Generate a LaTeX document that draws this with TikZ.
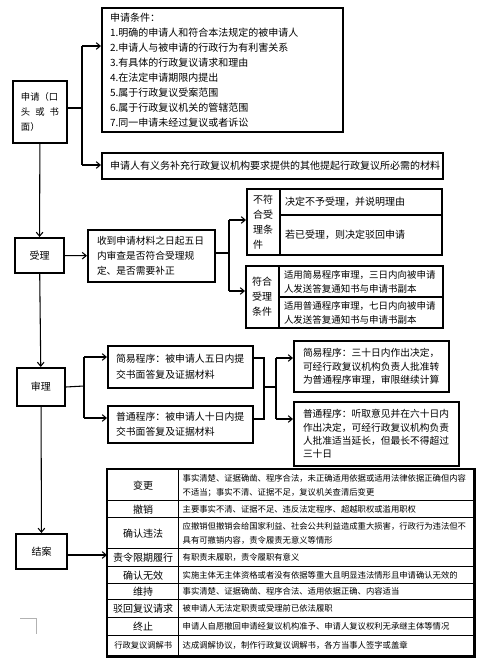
\documentclass[tikz,border=0pt]{standalone}
\usepackage{fontspec}
\newfontfamily\cjk{Noto Sans CJK SC}
\usetikzlibrary{arrows.meta,positioning,calc}

\begin{document}
\begin{tikzpicture}[x=0.75pt,y=-0.75pt,>={Straight Barb[length=3pt,width=5pt]},
 box/.style={draw,line width=1.5pt,anchor=north west,inner sep=0pt,font=\cjk\fontsize{7.5}{11.25}\selectfont},
 tbox/.style={box,align=left},
 cbox/.style={box,align=center},
 lcell/.style={draw,line width=1.1pt,anchor=north west,inner sep=0pt,align=center,minimum width=53.25pt,font=\cjk\fontsize{7.5}{10}\selectfont},
 cell/.style={draw,line width=1.1pt,anchor=north west,inner ysep=0pt,inner xsep=3pt,align=left,text width=215.25pt,font=\cjk\fontsize{6.25}{10.5}\selectfont},
 every path/.style={line width=0.8pt}]
\path[fill=white,use as bounding box] (0,0) rectangle (492,664);
% apply
\node[tbox,inner xsep=6pt,text width=28.5pt,minimum height=46.5pt,font=\cjk\fontsize{7}{11.25}\selectfont] (apply) at (12,80) {申请（口\\头\hfill 或\hfill 书\\面）};
\node[tbox,inner xsep=6pt,text width=168.75pt,minimum height=93pt] (cond) at (101,7) {申请条件：\\1.明确的申请人和符合本法规定的被申请人\\2.申请人与被申请的行政行为有利害关系\\3.有具体的行政复议请求和理由\\4.在法定申请期限内提出\\5.属于行政复议受案范围\\6.属于行政复议机关的管辖范围\\7.同一申请未经过复议或者诉讼};
\node[tbox,inner xsep=6pt,text width=243.75pt,minimum height=19.5pt] (supp) at (101,152) {申请人有义务补充行政复议机构要求提供的其他提起行政复议所必需的材料};
% accept
\node[cbox,minimum width=36.75pt,minimum height=26.25pt] (accept) at (14,237) {受理};
\node[tbox,inner xsep=6.75pt,text width=81.75pt,minimum height=39pt,font=\cjk\fontsize{7.3}{11.25}\selectfont] (check) at (87,229) {收到申请材料之日起五日\\内审查是否符合受理规\\定、是否需要补正};
\node[tbox,inner xsep=4.5pt,text width=15.75pt,minimum height=49.5pt] (nolab) at (246,188) {不符\\合受\\理条\\件};
\node[tbox,inner xsep=3.75pt,text width=114pt,minimum height=19.5pt] (no1) at (279,188) {决定不予受理，并说明理由};
\node[tbox,inner xsep=3.75pt,text width=114pt,minimum height=30pt] (no2) at (279,214) {若已受理，则决定驳回申请};
\node[tbox,inner xsep=4.5pt,text width=15.75pt,minimum height=46.5pt] (yeslab) at (245,265) {符合\\受理\\条件};
\node[tbox,inner xsep=3.75pt,text width=115.5pt,minimum height=23.25pt,font=\cjk\fontsize{7.1}{10.5}\selectfont] (yes1) at (278,265) {适用简易程序审理，三日内向被申请\\人发送答复通知书与申请书副本};
\node[tbox,inner xsep=3.75pt,text width=115.5pt,minimum height=23.25pt,font=\cjk\fontsize{7.1}{10.5}\selectfont] (yes2) at (278,296) {适用普通程序审理，七日内向被申请\\人发送答复通知书与申请书副本};
% trial
\node[cbox,minimum width=36pt,minimum height=28.5pt] (trial) at (16,367) {审理};
\node[tbox,inner xsep=6pt,text width=96.75pt,minimum height=31.5pt,font=\cjk\fontsize{7.4}{12}\selectfont] (simple1) at (107,345) {简易程序：被申请人五日内提\\交书面答复及证据材料};
\node[tbox,inner xsep=6pt,text width=96.75pt,minimum height=27.75pt,font=\cjk\fontsize{7.4}{11.25}\selectfont] (normal1) at (107,405) {普通程序：被申请人十日内提\\交书面答复及证据材料};
\node[tbox,inner xsep=6.75pt,text width=102.75pt,minimum height=38.25pt,font=\cjk\fontsize{7.3}{10.1}\selectfont] (simple2) at (293,340) {简易程序：三十日内作出决定，\\可经行政复议机构负责人批准转\\为普通程序审理，审限继续计算};
\node[tbox,inner xsep=6.75pt,text width=110.25pt,minimum height=48pt,font=\cjk\fontsize{7.3}{10}\selectfont] (normal2) at (293,401) {普通程序：听取意见并在六十日内\\作出决定，可经行政复议机构负责\\人批准适当延长，但最长不得超过\\三十日};
% close
\node[cbox,minimum width=38.25pt,minimum height=26.25pt] (close) at (15,533) {结案};
\node[lcell,minimum height=23.25pt] (l1) at (107,469) {变更};
\node[cell,minimum height=23.25pt] (t1) at (178,469) {事实清楚、证据确凿、程序合法，未正确适用依据或适用法律依据正确但内容\\不适当；事实不清、证据不足，复议机关查清后变更};
\node[lcell,minimum height=12.75pt] (l2) at (107,500) {撤销};
\node[cell,minimum height=12.75pt] (t2) at (178,500) {主要事实不清、证据不足、违反法定程序、超越职权或滥用职权};
\node[lcell,minimum height=23.25pt] (l3) at (107,517) {确认违法};
\node[cell,minimum height=23.25pt] (t3) at (178,517) {应撤销但撤销会给国家利益、社会公共利益造成重大损害，行政行为违法但不\\具有可撤销内容，责令履责无意义等情形};
\node[lcell,minimum height=13.5pt] (l4) at (107,548) {责令限期履行};
\node[cell,minimum height=13.5pt] (t4) at (178,548) {有职责未履职，责令履职有意义};
\node[lcell,minimum height=12.75pt] (l5) at (107,566) {确认无效};
\node[cell,minimum height=12.75pt] (t5) at (178,566) {实施主体无主体资格或者没有依据等重大且明显违法情形且申请确认无效的};
\node[lcell,minimum height=12pt] (l6) at (107,583) {维持};
\node[cell,minimum height=12pt] (t6) at (178,583) {事实清楚、证据确凿、程序合法、适用依据正确、内容适当};
\node[lcell,minimum height=13.5pt] (l7) at (107,599) {驳回复议请求};
\node[cell,minimum height=13.5pt] (t7) at (178,599) {被申请人无法定职责或受理前已依法履职};
\node[lcell,minimum height=13.5pt] (l8) at (107,617) {终止};
\node[cell,minimum height=13.5pt] (t8) at (178,617) {申请人自愿撤回申请经复议机构准予、申请人复议权利无承继主体等情况};
\node[lcell,minimum height=15pt,font=\cjk\fontsize{6.2}{10}\selectfont] (l9) at (107,635) {行政复议调解书};
\node[cell,minimum height=15pt] (t9) at (178,635) {达成调解协议，制作行政复议调解书，各方当事人签字或盖章};
\draw[line width=1.8pt] (l1.north west) rectangle (t9.south east);
% connectors
\coordinate (a0) at (82,108);
\coordinate (a1) at (82,46);
\coordinate (a2) at (82,165);
\draw (a0 -| apply.east) -- (a0);
\draw (a1) -- (a2);
\draw[->] (a1) -- (a1 -| cond.west);
\draw[->] (a2) -- (a2 -| supp.west);
\draw[->] (apply) -- (accept);
\draw[->] (accept) -- (check);
\coordinate (b0) at (229,253);
\coordinate (b1) at (229,220);
\coordinate (b2) at (229,291);
\draw (b0 -| check.east) -- (b0);
\draw (b1) -- (b2);
\draw[->] (b1) -- (b1 -| nolab.west);
\draw[->] (b2) -- (b2 -| yeslab.west);
\draw[->] (accept) -- (trial);
\coordinate (c0) at (84,386);
\coordinate (c1) at (84,357);
\coordinate (c2) at (84,418);
\draw (trial.east) -- (c0);
\draw (c1) -- (c2);
\draw[->] (c1) -- (c1 -| simple1.west);
\draw[->] (c2) -- (c2 -| normal1.west);
\coordinate (d0) at (264,387);
\coordinate (d1) at (264,358);
\coordinate (d2) at (264,419);
\coordinate (e0) at (276,387);
\coordinate (e1) at (276,358);
\coordinate (e2) at (276,419);
\draw (d1 -| simple1.east) -- (d1) -- (d2) -- (d2 -| normal1.east);
\draw (d0) -- (e0);
\draw (e1) -- (e2);
\draw[->] (e1) -- (e1 -| simple2.west);
\draw[->] (e2) -- (e2 -| normal2.west);
\draw[->] (trial) -- (close);
\coordinate (f0) at (66,555);
\draw[->] (f0 -| close.east) -- (f0 -| l1.west);
% corner mark
\draw[black!30,line width=0.6pt] (20,618) -- (36,618) -- (36,634);
\end{tikzpicture}
\end{document}
